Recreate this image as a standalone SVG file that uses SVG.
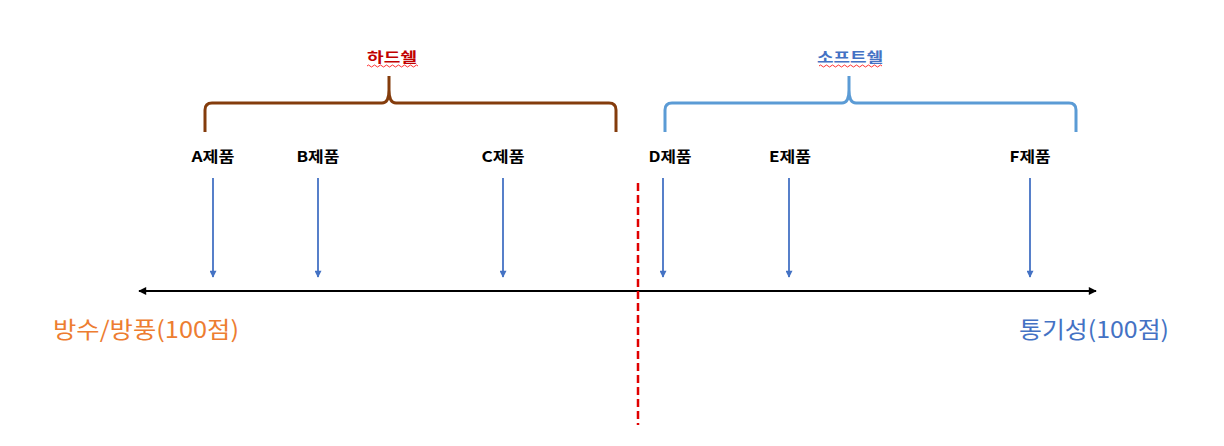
<svg xmlns="http://www.w3.org/2000/svg" width="1224" height="446" viewBox="0 0 1224 446">
<style>
.lbl{font-family:"Malgun Gothic","Noto Sans CJK KR",sans-serif;font-size:15px;font-weight:bold;fill:#000;text-anchor:middle}
.ttl{font-family:"Noto Sans CJK KR",sans-serif;font-size:14px;font-weight:bold;text-anchor:middle}
.big{font-family:"Noto Sans CJK KR",sans-serif;font-size:23px}
.down{stroke:#4472C4;stroke-width:1.8;fill:none;marker-end:url(#ad)}
.brace{fill:none;stroke-width:3;stroke-linejoin:round}
.sq{fill:none;stroke:#FF0000;stroke-width:0.8}
</style>
<defs>
<marker id="ad" viewBox="0 0 10 10" refX="9" refY="5" markerWidth="8" markerHeight="7" orient="auto" markerUnits="userSpaceOnUse"><path d="M0,0 L10,5 L0,10 z" fill="#4472C4"/></marker>
<marker id="ab" viewBox="0 0 10 10" refX="9" refY="5" markerWidth="9" markerHeight="8" orient="auto-start-reverse" markerUnits="userSpaceOnUse"><path d="M0,0 L10,5 L0,10 z" fill="#000"/></marker>
</defs>
<g id="hardshell">
<path class="brace" stroke="#843C0C" d="M205,132 L205,110 Q205,103 212,103 L382,103 Q389,103 389,90 L389,76 M389,90 Q389,103 396,103 L609,103 Q616,103 616,110 L616,132"/>
<text class="ttl" x="392" y="62" fill="#C00000" textLength="50" lengthAdjust="spacingAndGlyphs">하드쉘</text>
<path class="sq" d="M367,66 q1.5,-2 3,0 t3,0 t3,0 t3,0 t3,0 t3,0 t3,0 t3,0 t3,0 t3,0 t3,0 t3,0 t3,0 t3,0 t3,0 t3,0 t3,0"/>
</g>
<g id="softshell">
<path class="brace" stroke="#5B9BD5" d="M665,132 L665,110 Q665,103 672,103 L842,103 Q849,103 849,90 L849,76 M849,90 Q849,103 856,103 L1069,103 Q1076,103 1076,110 L1076,132"/>
<text class="ttl" x="850" y="62" fill="#4472C4" textLength="66" lengthAdjust="spacingAndGlyphs">소프트쉘</text>
<path class="sq" d="M819,66 q1.5,-2 3,0 t3,0 t3,0 t3,0 t3,0 t3,0 t3,0 t3,0 t3,0 t3,0 t3,0 t3,0 t3,0 t3,0 t3,0 t3,0 t3,0 t3,0 t3,0 t3,0 t3,0"/>
</g>
<g id="A"><text class="lbl" x="213" y="162" textLength="43" lengthAdjust="spacingAndGlyphs">A제품</text></g>
<g id="B"><text class="lbl" x="318" y="162" textLength="43" lengthAdjust="spacingAndGlyphs">B제품</text></g>
<g id="C"><text class="lbl" x="503" y="162" textLength="43" lengthAdjust="spacingAndGlyphs">C제품</text></g>
<g id="D"><text class="lbl" x="670" y="162" textLength="43" lengthAdjust="spacingAndGlyphs">D제품</text></g>
<g id="E"><text class="lbl" x="790" y="162" textLength="42" lengthAdjust="spacingAndGlyphs">E제품</text></g>
<g id="F"><text class="lbl" x="1030" y="162" textLength="41" lengthAdjust="spacingAndGlyphs">F제품</text></g>
<g id="left-label"><text class="big" x="53" y="338" fill="#ED7D31" textLength="186" lengthAdjust="spacingAndGlyphs">방수/방풍(100점)</text></g>
<g id="right-label"><text class="big" x="1019" y="338" fill="#4472C4" textLength="150" lengthAdjust="spacingAndGlyphs">통기성(100점)</text></g>
<g id="connectors">
<line class="down" x1="213" y1="178" x2="213" y2="277"/>
<line class="down" x1="318" y1="178" x2="318" y2="277"/>
<line class="down" x1="503" y1="178" x2="503" y2="277"/>
<line class="down" x1="663" y1="178" x2="663" y2="277"/>
<line class="down" x1="789" y1="178" x2="789" y2="277"/>
<line class="down" x1="1030" y1="178" x2="1030" y2="277"/>
<line x1="139" y1="291" x2="1096" y2="291" stroke="#000" stroke-width="2.2" marker-start="url(#ab)" marker-end="url(#ab)"/>
<line x1="638" y1="183" x2="638" y2="425" stroke="#E00000" stroke-width="2.5" stroke-dasharray="8,4"/>
</g>
</svg>
